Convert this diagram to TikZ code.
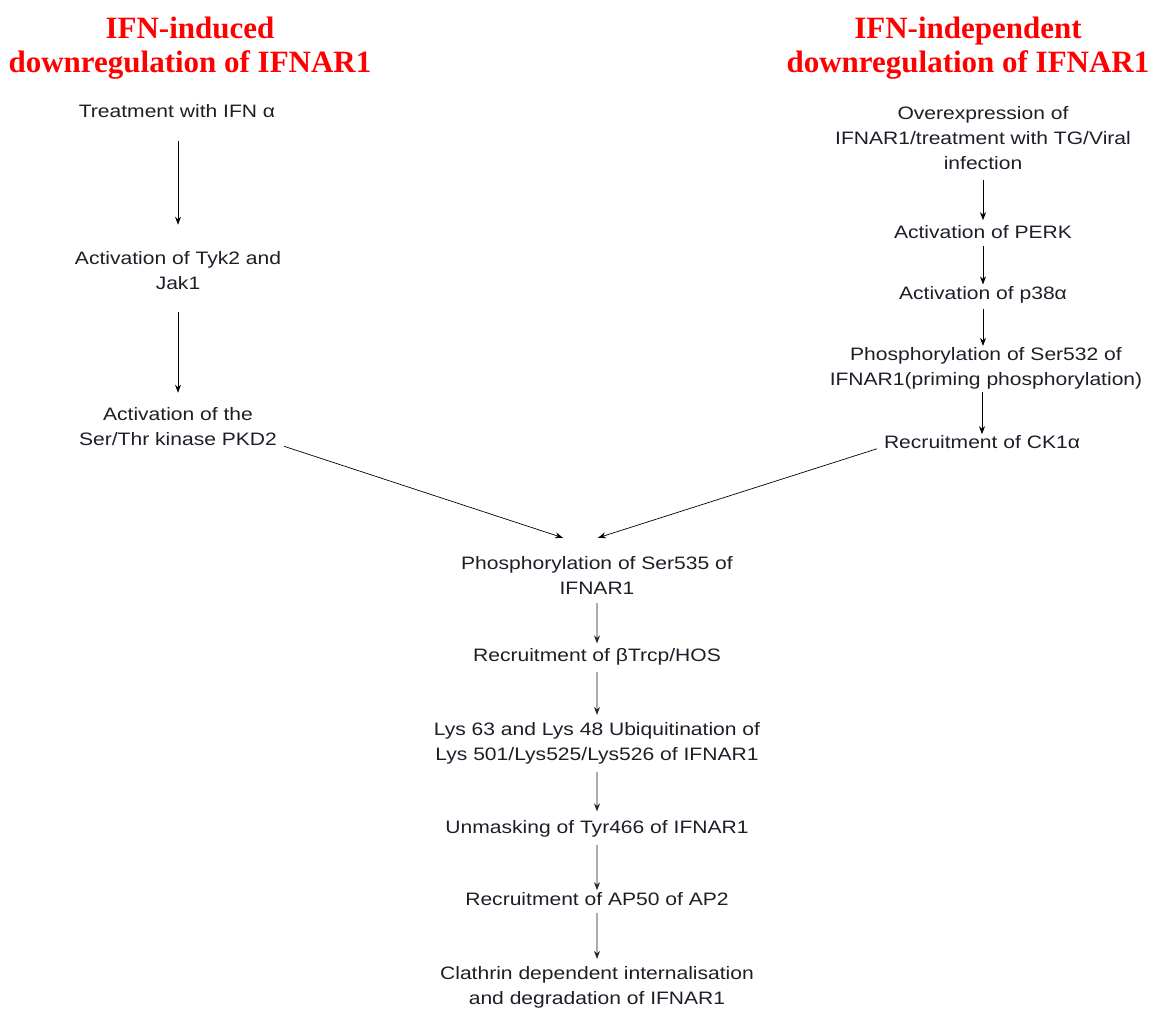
\documentclass[tikz,border=0pt]{standalone}
\usepackage{fontspec}
\setmainfont{Liberation Sans}[FakeStretch=1.17]
\newfontfamily\titlefont{Liberation Serif}
\usetikzlibrary{arrows.meta}
\definecolor{titlered}{RGB}{255,0,0}
\definecolor{txt}{RGB}{30,30,40}
\begin{document}
\begin{tikzpicture}[x=1pt,y=-1pt,
 lbl/.style={align=center, inner sep=0pt, text=txt, font=\fontsize{18}{25}\selectfont},
 ttl/.style={align=center, inner sep=0pt, text=titlered, font=\titlefont\bfseries\fontsize{31}{34}\selectfont},
 blk/.style={-{Stealth[length=8pt,width=6pt]}, black, line width=0.7pt},
 gry/.style={-{Stealth[length=8pt,width=6pt,color=black!85]}, draw=gray!65, line width=1.3pt}]
\useasboundingbox (0,0) rectangle (1159,1009);
\node[ttl] (t1) at (190,48) {IFN-induced\\downregulation of IFNAR1};
\node[ttl] (t2) at (968,48) {IFN-independent\\downregulation of IFNAR1};
\node[lbl] (a1) at (177,111) {Treatment with IFN α};
\node[lbl] (a2) at (178,271) {Activation of Tyk2 and\\Jak1};
\node[lbl] (a3) at (178,427) {Activation of the\\Ser/Thr kinase PKD2};
\node[lbl] (b1) at (983,138) {Overexpression of\\IFNAR1/treatment with TG/Viral\\infection};
\node[lbl] (b2) at (983,232) {Activation of PERK};
\node[lbl] (b3) at (983,295) {Activation of p38α};
\node[lbl] (b4) at (986,368) {Phosphorylation of Ser532 of\\IFNAR1(priming phosphorylation)};
\node[lbl] (b5) at (982,442) {Recruitment of CK1α};
\node[lbl] (c1) at (597,575) {Phosphorylation of Ser535 of\\IFNAR1};
\node[lbl] (c2) at (597,657) {Recruitment of βTrcp/HOS};
\node[lbl] (c3) at (597,743) {Lys 63 and Lys 48 Ubiquitination of\\Lys 501/Lys525/Lys526 of IFNAR1};
\node[lbl] (c4) at (597,829) {Unmasking of Tyr466 of IFNAR1};
\node[lbl] (c5) at (597,899) {Recruitment of AP50 of AP2};
\node[lbl] (c6) at (597,987) {Clathrin dependent internalisation\\and degradation of IFNAR1};
% left column
\draw[blk, shorten <=23pt, shorten >=27pt] (a1.south -| a2.south) -- (a2.north);
\draw[blk, shorten <=22pt, shorten >=15pt] (a2.south) -- (a3.north);
% right column
\draw[blk, shorten <=10pt, shorten >=5pt] (b1.south) -- (b2.north);
\draw[blk, shorten <=7pt, shorten >=2pt] (b2.south) -- (b3.north);
\draw[blk, shorten <=5pt, shorten >=1pt] (b3.south) -- (b4.north -| b3.south);
\draw[blk, shorten <=3pt, shorten >=1pt] (b4.south -| b5.north) -- (b5.north);
% converging
\draw[blk] ([xshift=7pt]a3.south east) -- ([xshift=-34pt,yshift=18pt]c1.north);
\draw[blk] ([xshift=-7pt]b5.south west) -- ([xshift=1pt,yshift=18pt]c1.north);
% centre column
\draw[gry, shorten <=9pt, shorten >=5pt] (c1.south) -- (c2.north);
\draw[gry, shorten <=6pt, shorten >=7pt] (c2.south) -- (c3.north);
\draw[gry, shorten <=8pt, shorten >=9pt] (c3.south) -- (c4.north);
\draw[gry, shorten <=7pt, shorten >=2pt] (c4.south) -- (c5.north);
\draw[gry, shorten <=7pt, shorten >=7pt] (c5.south) -- (c6.north);
\end{tikzpicture}
\end{document}
